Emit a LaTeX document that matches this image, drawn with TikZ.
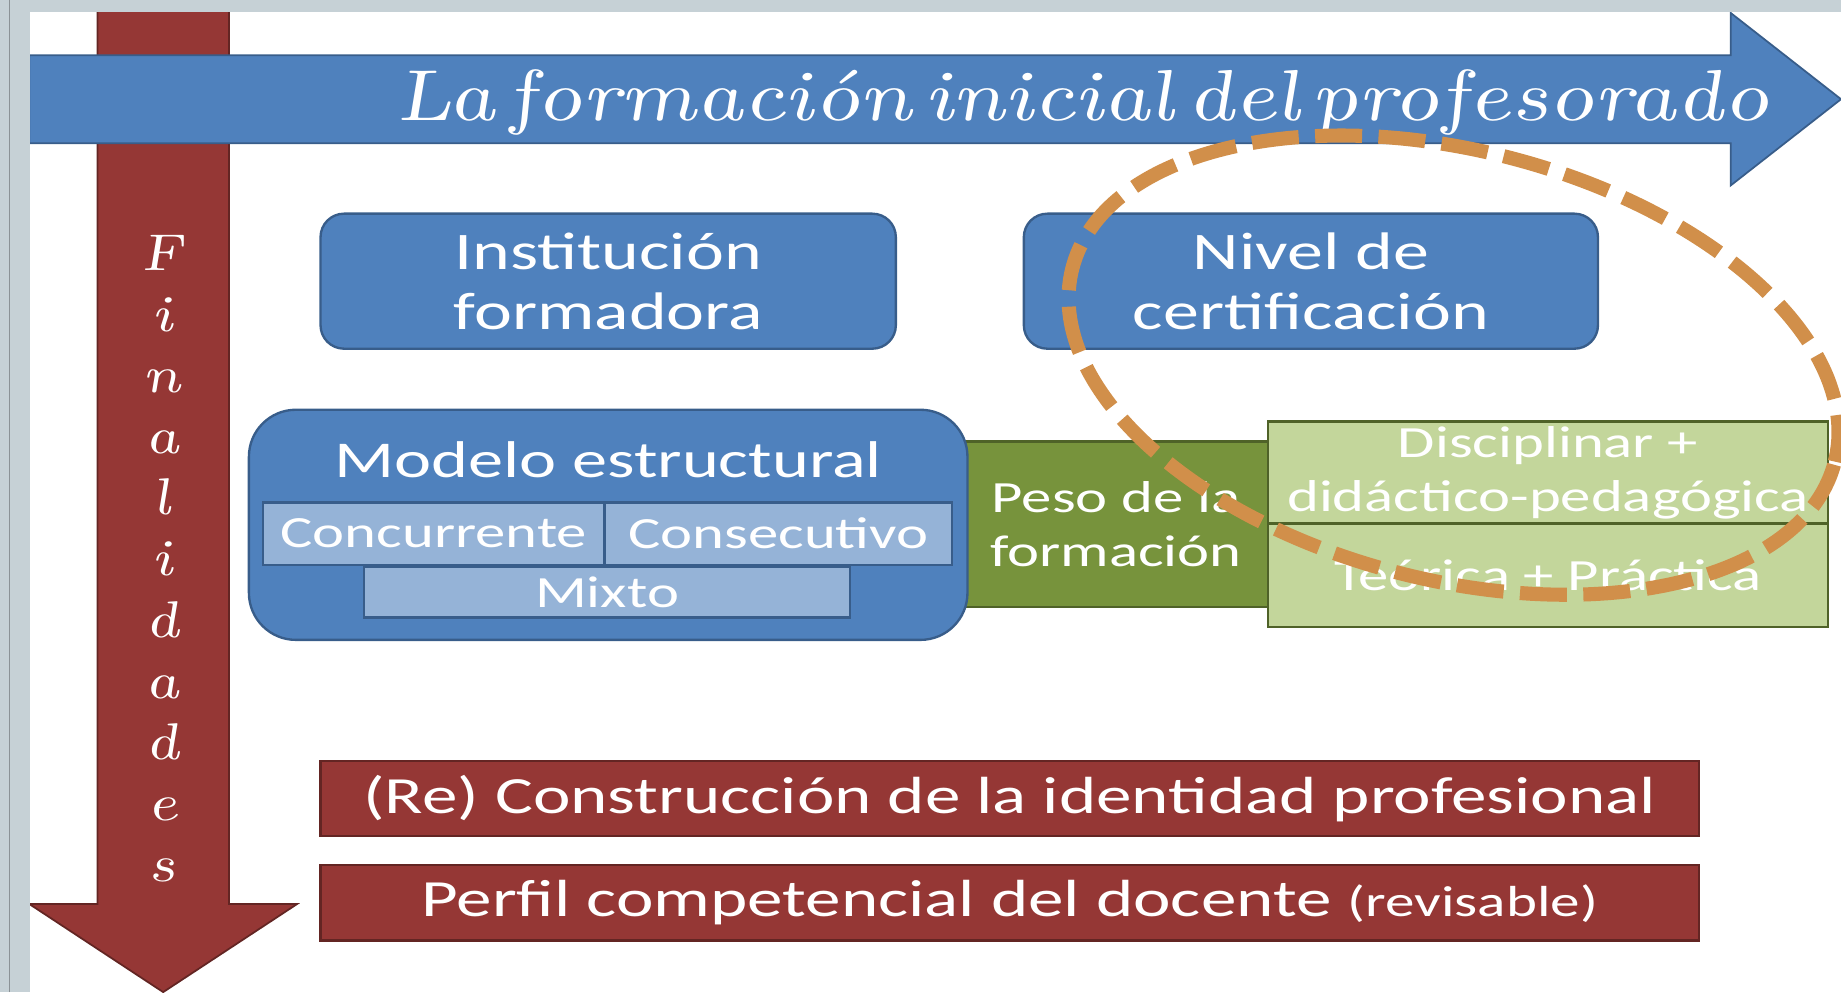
\documentclass[tikz,border=0pt]{standalone}
\usepackage{fontspec}
\setmainfont{Carlito}[FakeStretch=1.36]
\newfontfamily\manoscrita{lmroman10-italic}[Extension=.otf, FakeStretch=1.27, FakeSlant=-0.15, WordSpace=0.4]
\usetikzlibrary{shapes.geometric}
\definecolor{azul}{HTML}{4F81BD}
\definecolor{azulborde}{HTML}{385D8A}
\definecolor{celeste}{HTML}{95B3D7}
\definecolor{granate}{HTML}{953735}
\definecolor{granateborde}{HTML}{632523}
\definecolor{oliva}{HTML}{77933C}
\definecolor{olivaborde}{HTML}{4F6228}
\definecolor{pistacho}{HTML}{C3D69B}
\definecolor{naranja}{RGB}{209,143,74}
\definecolor{marco}{HTML}{C6D1D6}
\tikzset{
  cajaazul/.style={draw=azulborde, fill=azul, line width=2pt, rounded corners=20pt, text=white, align=center, inner sep=0pt, font=\fontsize{45}{51}\selectfont},
  subcaja/.style={draw=azulborde, fill=celeste, line width=2pt, text=white, inner sep=0pt, font=\fontsize{38}{44}\selectfont},
  cajaverde/.style={draw=olivaborde, fill=oliva, line width=2pt, text=white, align=center, inner sep=0pt, font=\fontsize{38}{46}\selectfont},
  cajaclara/.style={cajaverde, fill=pistacho},
  cajaroja/.style={draw=granateborde, fill=granate, line width=2pt, text=white, inner sep=0pt, font=\fontsize{44.5}{50}\selectfont},
  letra/.style={anchor=base, text=white, font=\manoscrita\fontsize{44}{44}\selectfont},
  elipse/.style={ellipse, draw=naranja, line width=12pt, dash pattern=on 40pt off 14pt}
}

\begin{document}
\begin{tikzpicture}[x=1pt, y=1pt]
\useasboundingbox (0,0) rectangle (1568,845);
% flechas de fondo
\filldraw[fill=granate, draw=granateborde, line width=1.5pt] (83,846) -- (195,846) -- (195,75) -- (253,75) -- (139,0) -- (25,75) -- (83,75) -- cycle;
\filldraw[fill=azul, draw=azulborde, line width=1.5pt] (25,798) -- (1474,798) -- (1474,834) -- (1568,760.5) -- (1474,687) -- (1474,723) -- (25,723) -- cycle;
\fill[marco] (0,0) rectangle (25.5,845);
\fill[marco] (0,835) rectangle (1568,845);
\draw[marco!70!black, line width=1.5pt] (8,0) -- (8,845);
\node[anchor=base, text=white, font=\manoscrita\fontsize{61.5}{62}\selectfont] (titulo) at (923,742) {La formación inicial del profesorado};
\foreach \c [count=\k from 0] in {F,i,n,a,l,i,d,a,d,e,s}
  \node[letra] (fin\k) at (139,615-52.1*\k) {\c};
% cajas
\node[cajaazul, minimum width=490pt, minimum height=115pt] (inst) at (518,605.5) {Institución\\formadora};
\node[cajaazul, minimum width=489pt, minimum height=115pt] (nivel) at (1116.5,605.5) {Nivel de\\certificación};
\node[cajaverde, minimum width=259pt, minimum height=141pt] (peso) at (950.5,398.5) {Peso de la\\formación};
\node[cajaazul, rounded corners=40pt, minimum width=612pt, minimum height=196pt] (modelo) at (518,398) {};
\node[text=white, font=\fontsize{44}{51}\selectfont] (modtit) at (518,453) {Modelo estructural};
\node[subcaja, minimum width=291pt, minimum height=53pt] (conc) at (369.5,390.5) {Concurrente};
\node[subcaja, minimum width=296pt, minimum height=53pt] (cons) at (663,390.5) {Consecutivo};
\node[subcaja, minimum width=414pt, minimum height=43pt] (mixto) at (517,340.5) {Mixto};
\node[cajaclara, minimum width=477pt, minimum height=87pt] (disc) at (1318.5,442.5) {Disciplinar +\\didáctico-pedagógica};
\node[cajaclara, minimum width=477pt, minimum height=88pt] (teor) at (1318.5,355) {Teórica + Práctica};
\node[cajaroja, minimum width=1174pt, minimum height=64pt] (ident) at (860,165) {(Re) Construcción de la identidad profesional};
\node[cajaroja, minimum width=1174pt, minimum height=64pt] (perfil) at (860,76) {Perfil competencial del docente {\fontsize{37}{40}\selectfont(revisable)}};
% foco
\node[elipse, minimum width=670pt, minimum height=366pt, rotate=-14.2] (foco) at (1238,534) {};
\end{tikzpicture}
\end{document}
